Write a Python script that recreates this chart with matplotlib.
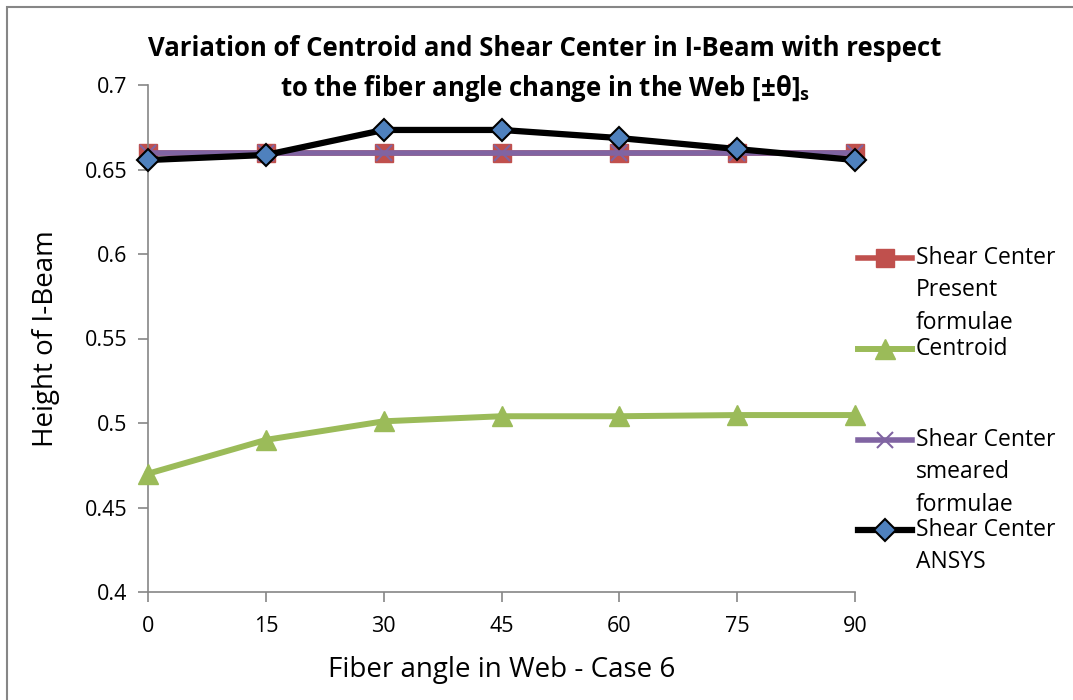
import matplotlib.pyplot as plt
from matplotlib.patches import Rectangle
from matplotlib.lines import Line2D

plt.rcParams['font.family'] = ['Open Sans', 'DejaVu Sans']

######### DATA ##############
angles = [0, 15, 30, 45, 60, 75, 90]
sc_present = [0.66, 0.66, 0.66, 0.66, 0.66, 0.66, 0.66]
centroid = [0.470, 0.490, 0.501, 0.504, 0.504, 0.5047, 0.5047]
sc_smeared = [0.6595, 0.6595, 0.6595, 0.6595, 0.6595, 0.6595, 0.6595]
sc_ansys = [0.6556, 0.6586, 0.6734, 0.6734, 0.6686, 0.6621, 0.6556]
y_ticks = [0.4, 0.45, 0.5, 0.55, 0.6, 0.65, 0.7]
y_tick_labels = ['0.4', '0.45', '0.5', '0.55', '0.6', '0.65', '0.7']
#############################

fig = plt.figure(figsize=(10.73, 7.0), dpi=100)
ax = fig.add_axes([148/1073, 1-592/700, (855-148)/1073, (592-85)/700])

## chart border
fig.patches.append(Rectangle((7/1073, -0.1), 1.2, 1.1 - 7/700, transform=fig.transFigure,
                             fill=False, edgecolor='#868686', linewidth=1.5))

ax.plot(angles, sc_present, color='#C0504D', lw=4, marker='s', ms=13,
        mfc='#C0504D', mec='#C0504D', label='Shear Center', zorder=2)
ax.plot(angles, centroid, color='#9BBB59', lw=4.3, marker='^', ms=14,
        mfc='#9BBB59', mec='#9BBB59', label='Centroid', zorder=3)
ax.plot(angles, sc_smeared, color='#8064A2', lw=4, marker='x', ms=11, mew=1.5,
        mec='#8064A2', label='Shear Center', zorder=4)
ax.plot(angles, sc_ansys, color='#000000', lw=4.5, marker='D', ms=11,
        mfc='#4F81BD', mec='black', mew=1.5, label='Shear Center', zorder=5)

ax.set_xlim(0, 90)
ax.set_ylim(0.4, 0.7)
ax.set_xticks(angles)
ax.set_xticklabels([str(a) for a in angles], fontsize=15.5)
ax.set_yticks(y_ticks)
ax.set_yticklabels(y_tick_labels, fontsize=15.5)
for s in ['top', 'right']:
    ax.spines[s].set_visible(False)
for s in ['left', 'bottom']:
    ax.spines[s].set_color('#868686')
    ax.spines[s].set_linewidth(1.2)
ax.tick_params(axis='both', direction='out', length=7, color='#868686', width=1.2)
ax.tick_params(axis='x', pad=10)
ax.tick_params(axis='y', pad=8)
for ln in ax.lines:
    ln.set_clip_on(False)

ax.set_xlabel('Fiber angle in Web - Case 6', fontsize=20, labelpad=14)
ax.set_ylabel('Height of I-Beam', fontsize=20, labelpad=18)

fig.text(545/1073, 1-48/700, 'Variation of Centroid and Shear Center in I-Beam with respect',
         ha='center', va='center', fontsize=18.5, fontweight='bold')
fig.text(545/1073, 1-88/700, r'to the fiber angle change in the Web [±θ]$_\mathregular{s}$',
         ha='center', va='center', fontsize=18.5, fontweight='bold')

## legend drawn by hand so the handle sits on the first line of each label
leg_items = [
    (258, ['Shear Center', 'Present', 'formulae'], ax.lines[0]),
    (349, ['Centroid'], ax.lines[1]),
    (440, ['Shear Center', 'smeared', 'formulae'], ax.lines[2]),
    (530, ['Shear Center', 'ANSYS'], ax.lines[3]),
]
for ypix, lines, src in leg_items:
    yf = 1 - ypix/700
    h = Line2D([858/1073, 912/1073], [yf, yf], transform=fig.transFigure,
               color=src.get_color(), lw=src.get_linewidth())
    fig.add_artist(h)
    m = Line2D([885/1073], [yf], transform=fig.transFigure, marker=src.get_marker(),
               ms=src.get_markersize(), mfc=src.get_markerfacecolor(),
               mec=src.get_markeredgecolor(), mew=src.get_markeredgewidth(), lw=0)
    fig.add_artist(m)
    for i, t in enumerate(lines):
        fig.text(916/1073, yf - i*32.5/700, t, ha='left', va='center', fontsize=16.5)

plt.savefig('out.png', dpi=100)
